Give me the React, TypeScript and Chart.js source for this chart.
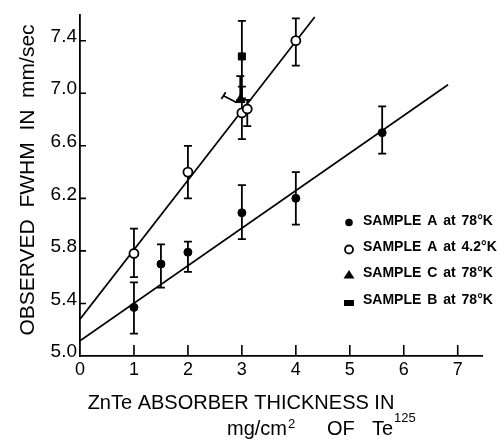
import React, { useEffect, useRef } from 'react';
import { Chart, registerables } from 'chart.js';

Chart.register(...registerables);

const FONT = '"Liberation Sans", Arial, sans-serif';

// Axis ticks
const xTicks = [0, 1, 2, 3, 4, 5, 6, 7];
const yTicks = [5.0, 5.4, 5.8, 6.2, 6.6, 7.0, 7.4];

// SAMPLE A at 78 K (filled circles)
const a78X = [1, 1.5, 2, 3, 4, 5.6];
const a78Y = [5.37, 5.70, 5.79, 6.09, 6.20, 6.70];
const a78Lo = [5.17, 5.52, 5.64, 5.89, 6.00, 6.54];
const a78Hi = [5.56, 5.85, 5.87, 6.30, 6.40, 6.90];

// SAMPLE A at 4.2 K (open circles)
const a42X = [1, 2, 3, 3.1, 4];
const a42Y = [5.78, 6.40, 6.85, 6.88, 7.40];
const a42Lo = [5.60, 6.20, 6.65, 6.75, 7.21];
const a42Hi = [5.97, 6.60, 7.05, 6.95, 7.57];

// SAMPLE C at 78 K (triangle)
const c78X = [2.97];
const c78Y = [6.95];
const c78Lo = [6.95];
const c78Hi = [7.13];

// SAMPLE B at 78 K (square)
const b78X = [3.0];
const b78Y = [7.28];
const b78Lo = [6.96];
const b78Hi = [7.55];

// tilted error bar near x = 3
const tiltBarX = [2.66, 2.9];
const tiltBarY = [6.98, 6.93];
const tiltCapX = [2.62, 2.7];
const tiltCapY = [6.956, 7.008];

// fitted lines
const fitA78X = [0, 6.82];
const fitA78Y = [5.115, 7.065];
const fitA42X = [0, 4.35];
const fitA42Y = [5.28, 7.58];

const legendLabels = [
  'SAMPLE A at 78°K',
  'SAMPLE A at 4.2°K',
  'SAMPLE C at 78°K',
  'SAMPLE B at 78°K',
];

const yTitle = 'OBSERVED  FWHM  IN  mm/sec';
const xTitle1 = 'ZnTe ABSORBER THICKNESS IN';

const pts = (xs: number[], ys: number[]) => xs.map((x, i) => ({ x, y: ys[i] }));

const errorBarPlugin = {
  id: 'errorBars',
  beforeDatasetsDraw(chart: any) {
    const { ctx, scales } = chart;
    const xs = scales.x;
    const ys = scales.y;
    ctx.save();
    ctx.strokeStyle = '#000';
    ctx.lineWidth = 1.8;
    chart.data.datasets.forEach((ds: any) => {
      if (!ds.errLo) return;
      ds.data.forEach((p: any, i: number) => {
        const px = xs.getPixelForValue(p.x);
        const lo = ys.getPixelForValue(ds.errLo[i]);
        const hi = ys.getPixelForValue(ds.errHi[i]);
        ctx.beginPath();
        ctx.moveTo(px, lo);
        ctx.lineTo(px, hi);
        ctx.moveTo(px - 4, lo);
        ctx.lineTo(px + 4, lo);
        ctx.moveTo(px - 4, hi);
        ctx.lineTo(px + 4, hi);
        ctx.stroke();
      });
    });
    ctx.restore();
  },
};

const tickMarkPlugin = {
  id: 'tickMarks',
  afterDatasetsDraw(chart: any) {
    const { ctx, scales, chartArea } = chart;
    ctx.save();
    ctx.strokeStyle = '#000';
    ctx.lineWidth = 1.6;
    ctx.beginPath();
    yTicks.forEach((v) => {
      if (v === yTicks[0]) return;
      const py = scales.y.getPixelForValue(v);
      ctx.moveTo(chartArea.left, py);
      ctx.lineTo(chartArea.left + 6, py);
    });
    xTicks.forEach((v) => {
      if (v === xTicks[0]) return;
      const px = scales.x.getPixelForValue(v);
      ctx.moveTo(px, chartArea.bottom);
      ctx.lineTo(px, chartArea.bottom - 11);
    });
    ctx.stroke();
    ctx.restore();
  },
};

const textPlugin = {
  id: 'texts',
  afterDraw(chart: any) {
    const { ctx } = chart;
    ctx.save();
    ctx.fillStyle = '#000';
    // Y title
    ctx.save();
    ctx.translate(28, 180);
    ctx.rotate(-Math.PI / 2);
    ctx.font = `21px ${FONT}`;
    ctx.textAlign = 'center';
    ctx.textBaseline = 'middle';
    ctx.fillText(yTitle, 0, 0);
    ctx.restore();

    // X title line 1
    ctx.font = `20px ${FONT}`;
    ctx.textAlign = 'center';
    ctx.textBaseline = 'alphabetic';
    ctx.fillText(xTitle1, 241, 409);

    // X title line 2: mg/cm2 OF Te125
    ctx.textAlign = 'left';
    ctx.font = `20px ${FONT}`;
    ctx.fillText('mg/cm', 227, 435);
    let w = ctx.measureText('mg/cm').width;
    ctx.font = `13px ${FONT}`;
    ctx.fillText('2', 227 + w + 1, 428);
    ctx.font = `20px ${FONT}`;
    ctx.fillText('OF', 327, 435);
    ctx.fillText('Te', 372, 435);
    w = ctx.measureText('Te').width;
    ctx.font = `13px ${FONT}`;
    ctx.fillText('125', 372 + w + 1, 422);

    // Legend
    const rows = [222.5, 248.5, 274.5, 301];
    const mx = 349;
    rows.forEach((ry, i) => {
      ctx.fillStyle = '#000';
      ctx.strokeStyle = '#000';
      ctx.lineWidth = 1.8;
      if (i === 0) {
        ctx.beginPath();
        ctx.arc(mx, ry, 3.8, 0, Math.PI * 2);
        ctx.fill();
      } else if (i === 1) {
        ctx.beginPath();
        ctx.arc(mx, ry + 1, 4, 0, Math.PI * 2);
        ctx.stroke();
      } else if (i === 2) {
        ctx.beginPath();
        ctx.moveTo(mx, ry - 4.5);
        ctx.lineTo(mx + 5.5, ry + 4);
        ctx.lineTo(mx - 5.5, ry + 4);
        ctx.closePath();
        ctx.fill();
      } else {
        ctx.fillRect(mx - 5, ry - 1, 10, 6);
      }
      ctx.font = `bold 14px ${FONT}`;
      (ctx as any).wordSpacing = '2px';
      ctx.textAlign = 'left';
      ctx.textBaseline = 'middle';
      ctx.fillText(legendLabels[i], 363, ry - 1);
      (ctx as any).wordSpacing = '0px';
    });
    ctx.restore();
  },
};

export default function App() {
  const ref = useRef<HTMLCanvasElement | null>(null);

  useEffect(() => {
    if (!ref.current) return;
    const lineDs = (xs: number[], ys: number[], order: number) => ({
      data: pts(xs, ys),
      showLine: true,
      borderColor: '#000',
      borderWidth: 1.7,
      pointRadius: 0,
      fill: false,
      order,
    });
    const chart = new Chart(ref.current, {
      type: 'scatter',
      data: {
        datasets: [
          {
            label: 'SAMPLE A at 78°K',
            data: pts(a78X, a78Y),
            errLo: a78Lo,
            errHi: a78Hi,
            pointStyle: 'circle',
            pointRadius: 4,
            backgroundColor: '#000',
            borderColor: '#000',
            borderWidth: 1,
            order: 1,
          } as any,
          {
            label: 'SAMPLE A at 4.2°K',
            data: pts(a42X, a42Y),
            errLo: a42Lo,
            errHi: a42Hi,
            pointStyle: 'circle',
            pointRadius: 4.5,
            backgroundColor: '#fff',
            borderColor: '#000',
            borderWidth: 1.8,
            order: 3,
          } as any,
          {
            label: 'SAMPLE C at 78°K',
            data: pts(c78X, c78Y),
            errLo: c78Lo,
            errHi: c78Hi,
            pointStyle: 'triangle',
            pointRadius: 5.5,
            backgroundColor: '#000',
            borderColor: '#000',
            borderWidth: 1,
            order: 2,
          } as any,
          {
            label: 'SAMPLE B at 78°K',
            data: pts(b78X, b78Y),
            errLo: b78Lo,
            errHi: b78Hi,
            pointStyle: 'rect',
            pointRadius: 5,
            backgroundColor: '#000',
            borderColor: '#000',
            borderWidth: 1,
            order: 1,
          } as any,
          lineDs(tiltBarX, tiltBarY, 5),
          lineDs(tiltCapX, tiltCapY, 5),
          lineDs(fitA78X, fitA78Y, 10),
          lineDs(fitA42X, fitA42Y, 10),
        ],
      },
      options: {
        responsive: false,
        animation: false,
        layout: { padding: { top: 9, right: 15, bottom: 0, left: 0 } },
        plugins: {
          legend: { display: false },
          tooltip: { enabled: false },
        },
        scales: {
          x: {
            type: 'linear',
            min: 0,
            max: 7.45,
            grid: { display: false, drawTicks: false },
            border: { display: true, color: '#000', width: 1.8 },
            ticks: {
              color: '#000',
              font: { family: FONT, size: 18 },
              padding: 3,
              maxRotation: 0,
              autoSkip: false,
              callback: (v: any) => String(v),
            },
            afterBuildTicks: (s: any) => {
              s.ticks = xTicks.map((v) => ({ value: v }));
            },
            afterFit: (s: any) => {
              s.height = 84;
            },
          },
          y: {
            type: 'linear',
            min: 5,
            max: 7.6,
            grid: { display: false, drawTicks: false },
            border: { display: true, color: '#000', width: 1.8 },
            ticks: {
              color: '#000',
              font: { family: FONT, size: 19 },
              padding: 3,
              labelOffset: -4,
              autoSkip: false,
              callback: (v: any) => Number(v).toFixed(1),
            },
            afterBuildTicks: (s: any) => {
              s.ticks = yTicks.map((v) => ({ value: v }));
            },
            afterFit: (s: any) => {
              s.width = 80;
            },
          },
        },
      } as any,
      plugins: [errorBarPlugin, tickMarkPlugin, textPlugin],
    });
    return () => chart.destroy();
  }, []);

  return (
    <div style={{ position: 'fixed', left: 0, top: 0, width: 497, height: 440, background: '#fff' }}>
      <canvas ref={ref} width={497} height={440} style={{ display: 'block' }} />
    </div>
  );
}
